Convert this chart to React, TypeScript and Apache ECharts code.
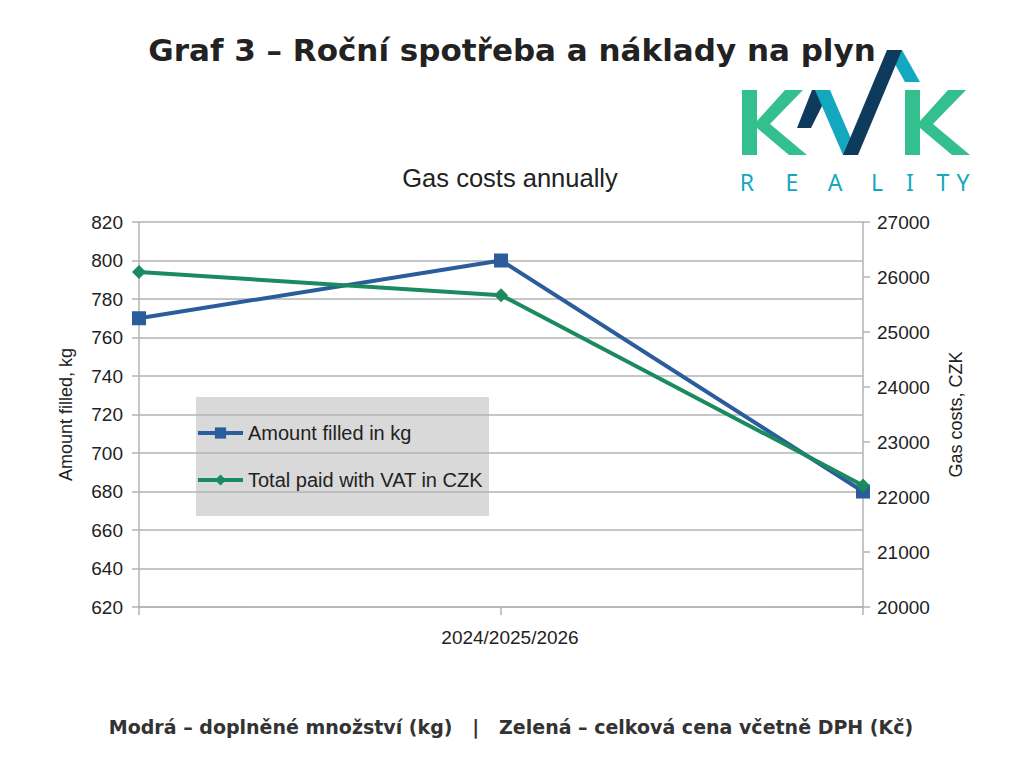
import React, { useEffect, useRef } from "react";
import * as echarts from "echarts";

// ---- data ----
const years = ["2024", "2025", "2026"];
const amountKg = [770, 800, 680];
const totalCzk = [26090, 25670, 22210];
const seriesNames = ["Amount filled in kg", "Total paid with VAT in CZK"];
const leftAxisRange = [620, 820, 20];
const rightAxisRange = [20000, 27000, 1000];

const mainTitle = "Graf 3 – Roční spotřeba a náklady na plyn";
const chartTitle = "Gas costs annually";
const footer = "Modrá – doplněné množství (kg)\u00a0\u00a0\u00a0|\u00a0\u00a0\u00a0Zelená – celková cena včetně DPH (Kč)";
const logoLetters = ["R", "E", "A", "L", "I", "T", "Y"];
const logoLetterX = [747, 792, 835, 877, 910, 943, 963];

const BLUE = "#2b5c9c";
const GREEN = "#1b8a5e";
const GRID = "#b3b3b3";
const LOGO_GREEN = "#34bf8f";
const LOGO_TEAL = "#13a8bf";
const LOGO_NAVY = "#0e3a5c";

function kShape(x0: number, y0: number) {
  const pts = [
    [0, 0], [15, 0], [15, 31], [43, 0], [61, 0], [28, 34], [65, 65], [47, 65], [15, 38], [15, 65], [0, 65],
  ];
  return pts.map(([x, y]) => [x0 + x, y0 + y]);
}

export default function App() {
  const ref = useRef<HTMLDivElement>(null);
  useEffect(() => {
    if (!ref.current) return;
    const chart = echarts.init(ref.current, undefined, { renderer: "svg" });
    const axisFont = { fontFamily: "Liberation Sans", fontSize: 19, color: "#222" };
    const option: any = {
      animation: false,
      backgroundColor: "#ffffff",
      textStyle: { fontFamily: "Liberation Sans" },
      grid: { left: 139, right: 161, top: 222, bottom: 161, containLabel: false },
      xAxis: {
        type: "category",
        data: years,
        boundaryGap: false,
        axisLine: { show: true, lineStyle: { color: GRID, width: 1.5 } },
        axisTick: { show: true, interval: 0, length: 8, lineStyle: { color: GRID, width: 1.5 } },
        axisLabel: {
          ...axisFont,
          interval: 0,
          margin: 21,
          padding: [0, 0, 0, 18],
          formatter: (v: string, i: number) => (i === 1 ? years.join("/") : ""),
        },
        splitLine: { show: false },
      },
      yAxis: [
        {
          type: "value",
          position: "left",
          min: leftAxisRange[0],
          max: leftAxisRange[1],
          interval: leftAxisRange[2],
          name: "Amount filled, kg",
          nameLocation: "middle",
          nameGap: 64,
          nameRotate: 90,
          nameTextStyle: { fontFamily: "Liberation Sans", fontSize: 18, color: "#222" },
          axisLine: { show: true, lineStyle: { color: GRID, width: 1.5 } },
          axisTick: { show: true, length: 7, lineStyle: { color: GRID, width: 1.5 } },
          axisLabel: { ...axisFont, margin: 16, formatter: (v: number) => String(v) },
          splitLine: { show: true, lineStyle: { color: GRID, width: 1.5 } },
        },
        {
          type: "value",
          position: "right",
          min: rightAxisRange[0],
          max: rightAxisRange[1],
          interval: rightAxisRange[2],
          name: "Gas costs, CZK",
          nameLocation: "middle",
          nameGap: 84,
          nameRotate: 90,
          nameTextStyle: { fontFamily: "Liberation Sans", fontSize: 18, color: "#222" },
          axisLine: { show: true, lineStyle: { color: GRID, width: 1.5 } },
          axisTick: { show: true, length: 7, lineStyle: { color: GRID, width: 1.5 } },
          axisLabel: { ...axisFont, margin: 14, formatter: (v: number) => String(v) },
          splitLine: { show: false },
        },
      ],
      legend: {
        orient: "vertical",
        left: 196,
        top: 423,
        padding: 0,
        itemWidth: 45,
        itemHeight: 14,
        itemGap: 27,
        lineStyle: { width: 4 },
        textStyle: { fontFamily: "Liberation Sans", fontSize: 20, color: "#222", lineHeight: 20 },
        data: seriesNames,
      },
      series: [
        {
          name: seriesNames[0],
          type: "line",
          yAxisIndex: 0,
          data: amountKg,
          symbol: "rect",
          symbolSize: 14,
          lineStyle: { color: BLUE, width: 4 },
          itemStyle: { color: BLUE },
          z: 3,
        },
        {
          name: seriesNames[1],
          type: "line",
          yAxisIndex: 1,
          data: totalCzk,
          symbol: "diamond",
          symbolSize: 14,
          lineStyle: { color: GREEN, width: 4 },
          itemStyle: { color: GREEN },
          z: 4,
        },
      ],
      graphic: [
        {
          type: "rect",
          z: -1,
          shape: { x: 196, y: 397, width: 293, height: 119 },
          style: { fill: "#d9d9d9" },
        },
        {
          type: "text",
          x: 512,
          y: 50,
          style: {
            text: mainTitle,
            fontFamily: "DejaVu Sans",
            fontWeight: "bold",
            fontSize: 31,
            fill: "#222",
            textAlign: "center",
            textVerticalAlign: "middle",
          },
        },
        {
          type: "text",
          x: 510,
          y: 178,
          style: {
            text: chartTitle,
            fontFamily: "Liberation Sans",
            fontSize: 25.5,
            fill: "#222",
            textAlign: "center",
            textVerticalAlign: "middle",
          },
        },
        {
          type: "text",
          x: 511,
          y: 727,
          style: {
            text: footer,
            fontFamily: "DejaVu Sans",
            fontWeight: "bold",
            fontSize: 19,
            fill: "#333",
            textAlign: "center",
            textVerticalAlign: "middle",
          },
        },
        // logo
        { type: "polygon", shape: { points: kShape(742, 90) }, style: { fill: LOGO_GREEN } },
        { type: "polygon", shape: { points: kShape(905, 90) }, style: { fill: LOGO_GREEN } },
        {
          type: "polygon",
          shape: { points: [[797, 128], [812, 90], [816, 90], [823, 104], [811, 128]] },
          style: { fill: LOGO_NAVY },
        },
        {
          type: "polygon",
          shape: { points: [[815, 90], [830, 90], [858, 155], [843, 155]] },
          style: { fill: LOGO_TEAL },
        },
        {
          type: "polygon",
          shape: { points: [[887, 50], [902, 50], [920, 82], [905, 82]] },
          style: { fill: LOGO_TEAL },
        },
        {
          type: "polygon",
          shape: { points: [[843, 155], [887, 50], [902, 50], [858, 155]] },
          style: { fill: LOGO_NAVY },
        },
        ...logoLetters.map((ch, i) => ({
          type: "text",
          x: logoLetterX[i],
          y: 182,
          style: {
            text: ch,
            fontFamily: "Noto Sans",
            fontSize: 23,
            fill: LOGO_TEAL,
            textAlign: "center",
            textVerticalAlign: "middle",
          },
        })),
      ],
    };
    chart.setOption(option);
    return () => chart.dispose();
  }, []);
  return (
    <div
      ref={ref}
      style={{ position: "fixed", left: 0, top: 0, width: 1024, height: 768, background: "#fff" }}
    />
  );
}
